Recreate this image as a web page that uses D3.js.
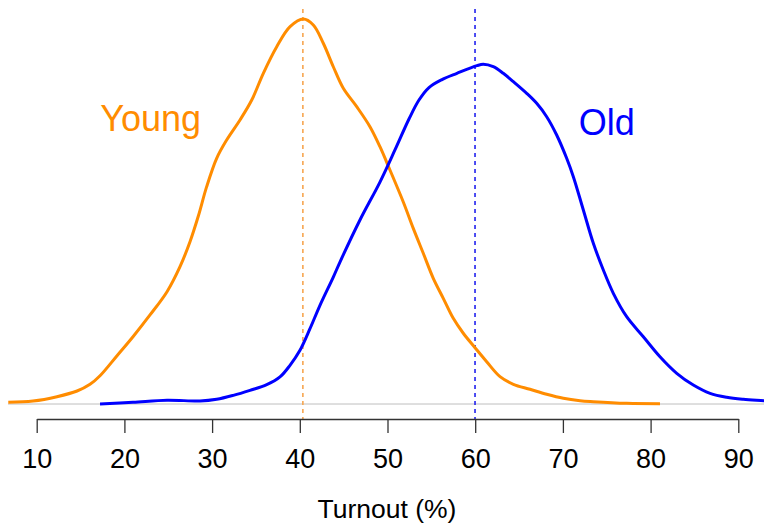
<!DOCTYPE html>
<html>
<head>
<meta charset="utf-8">
<script src="https://cdn.jsdelivr.net/npm/d3@7"></script>
<style>
  html, body { margin: 0; padding: 0; background: #fff; }
  text { font-family: "Liberation Sans", Arial, Helvetica, sans-serif; }
</style>
</head>
<body>
<svg id="chart" width="764" height="525"></svg>
<script>
// ---- data ----
const youngX = [6.76, 9.58, 12.31, 14.60, 16.08, 17.22, 19.16, 20.98, 22.92, 24.86, 26.34, 27.48, 28.43, 29.38, 30.52, 31.66, 33.18, 34.52, 35.84, 37.37, 38.89, 40.40, 41.54, 42.68, 43.82, 44.96, 46.49, 48.00, 49.14, 50.28, 51.80, 52.94, 54.08, 55.22, 56.36, 57.50, 58.64, 59.98, 61.31, 62.83, 64.35, 66.25, 68.15, 70.05, 71.95, 73.47, 77.27, 81.07];
const youngD = [0.00018, 0.00031, 0.00076, 0.00135, 0.00205, 0.00294, 0.00502, 0.00699, 0.00925, 0.01167, 0.01427, 0.01686, 0.01953, 0.02258, 0.02553, 0.02743, 0.02951, 0.03158, 0.03436, 0.03712, 0.03920, 0.04000, 0.03938, 0.03748, 0.03504, 0.03280, 0.03089, 0.02881, 0.02673, 0.02431, 0.02099, 0.01825, 0.01566, 0.01306, 0.01098, 0.00890, 0.00735, 0.00585, 0.00439, 0.00284, 0.00205, 0.00153, 0.00101, 0.00059, 0.00034, 0.00024, 0.00007, 0.00003];

const oldX = [17.22, 20.98, 24.86, 28.62, 30.52, 32.42, 34.32, 36.23, 37.74, 38.88, 40.02, 41.16, 42.30, 43.82, 44.58, 46.86, 49.14, 50.85, 52.45, 53.59, 54.73, 56.21, 57.92, 60.20, 60.92, 62.06, 63.20, 64.35, 65.87, 67.01, 68.15, 69.29, 70.43, 71.19, 72.33, 73.47, 74.61, 75.75, 77.27, 79.17, 81.07, 82.98, 84.87, 86.78, 88.68, 90.57, 92.93, 95.0];
const oldD = [0.00000, 0.00018, 0.00040, 0.00031, 0.00049, 0.00090, 0.00142, 0.00201, 0.00281, 0.00402, 0.00558, 0.00782, 0.01025, 0.01319, 0.01475, 0.01912, 0.02306, 0.02639, 0.02961, 0.03158, 0.03288, 0.03371, 0.03436, 0.03515, 0.03529, 0.03504, 0.03436, 0.03349, 0.03228, 0.03124, 0.02985, 0.02795, 0.02553, 0.02362, 0.02016, 0.01670, 0.01392, 0.01150, 0.00907, 0.00699, 0.00491, 0.00319, 0.00197, 0.00111, 0.00070, 0.00049, 0.00034, 0.00020];

const means = [40.35, 59.98];          // Young, Old mean turnout
const groupNames = ["Young", "Old"];
const labelX = [23, 75];
const labelY = [0.02836, 0.02795];
const xTicks = [10, 20, 30, 40, 50, 60, 70, 80, 90];
const xTitle = "Turnout (%)";

// ---- styles / layout ----
const colors = ["#FF8C00", "#0000FF"];
const dashColors = ["#F7A650", "#2222EE"];
const plotTop = 9, plotBottom = 419, plotLeft = 8, plotRight = 766;

const svg = d3.select("#chart");
const x = d3.scaleLinear().domain([10, 90]).range([36.7, 738.3]);
const y = d3.scaleLinear().domain([0, 0.04]).range([404, 19]);

// clip to plot region
svg.append("defs").append("clipPath").attr("id", "plotclip")
  .append("rect").attr("x", plotLeft).attr("y", plotTop - 2)
  .attr("width", plotRight - plotLeft).attr("height", plotBottom - plotTop + 2);

const plot = svg.append("g").attr("clip-path", "url(#plotclip)");

// zero baseline
plot.append("line")
  .attr("x1", plotLeft).attr("x2", plotRight)
  .attr("y1", y(0)).attr("y2", y(0))
  .attr("stroke", "#bebebe").attr("stroke-width", 1);

// mean lines
means.forEach((m, i) => {
  plot.append("line")
    .attr("x1", x(m)).attr("x2", x(m))
    .attr("y1", plotTop).attr("y2", plotBottom)
    .attr("stroke", dashColors[i]).attr("stroke-width", 1.6)
    .attr("stroke-dasharray", "4,4");
});

const line = d3.line()
  .x(d => x(d[0])).y(d => Math.min(y(d[1]), y(0)))
  .curve(d3.curveCatmullRom.alpha(0.5));

const series = [d3.zip(youngX, youngD), d3.zip(oldX, oldD)];
series.forEach((s, i) => {
  plot.append("path")
    .datum(s)
    .attr("d", line)
    .attr("fill", "none")
    .attr("stroke", colors[i])
    .attr("stroke-width", 3)
    .attr("stroke-linejoin", "round");
});

// group labels
groupNames.forEach((n, i) => {
  svg.append("text")
    .attr("x", x(labelX[i])).attr("y", y(labelY[i]))
    .attr("text-anchor", "middle")
    .attr("font-size", 36)
    .attr("fill", colors[i])
    .text(n);
});

// x axis
const axis = d3.axisBottom(x).tickValues(xTicks).tickSize(14).tickPadding(16).tickSizeOuter(0);
const gx = svg.append("g").attr("transform", `translate(0,${plotBottom})`).call(axis);
gx.select(".domain").attr("stroke", "#333").attr("stroke-width", 1.3);
gx.selectAll(".tick line").attr("stroke", "#333").attr("stroke-width", 1.3);
gx.selectAll(".tick text")
  .attr("font-size", 27)
  .attr("font-family", '"Liberation Sans", Arial, sans-serif')
  .attr("fill", "#000")
  .attr("dy", null)
  .attr("y", 49);

svg.append("text")
  .attr("x", (plotLeft + plotRight) / 2)
  .attr("y", 518)
  .attr("text-anchor", "middle")
  .attr("font-size", 26.5)
  .attr("fill", "#000")
  .text(xTitle);
</script>
</body>
</html>
